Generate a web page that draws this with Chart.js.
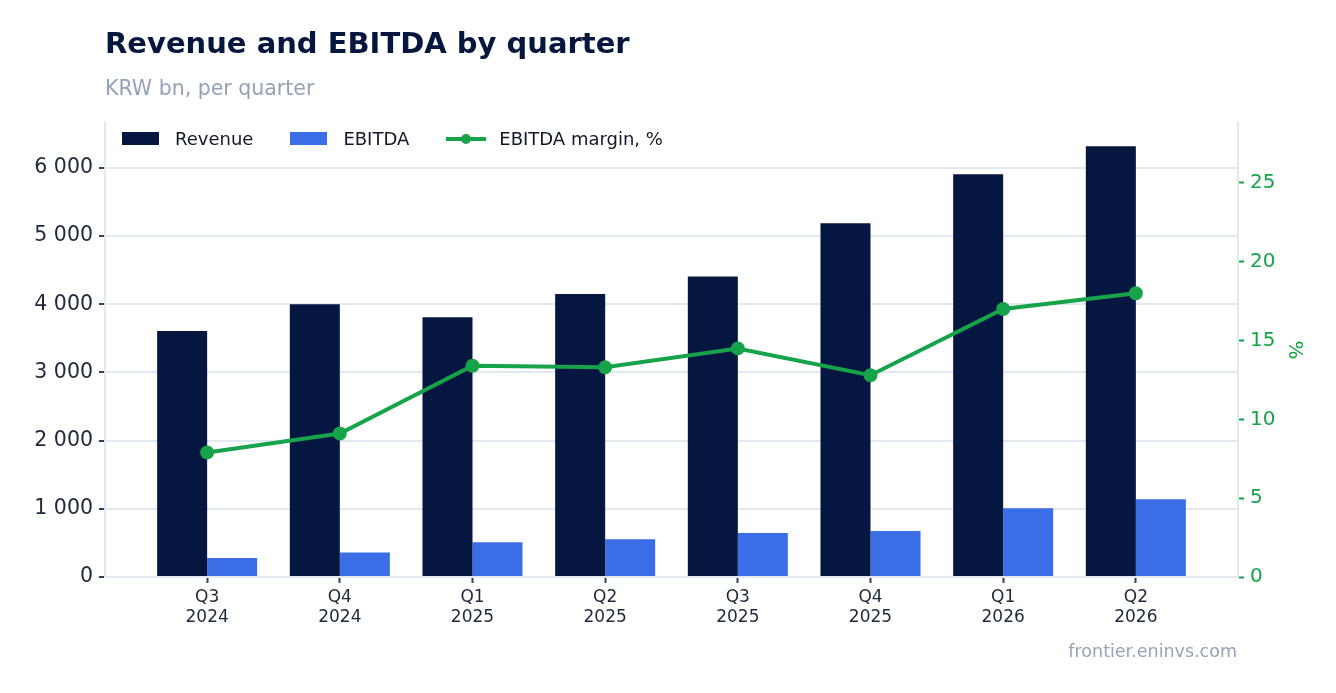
<!DOCTYPE html>
<html>
<head>
<meta charset="utf-8">
<script src="https://cdn.jsdelivr.net/npm/chart.js@4.4.1/dist/chart.umd.min.js"></script>
<style>
  html, body { margin: 0; padding: 0; background: #fff; }
  body { width: 1336px; height: 693px; position: relative; overflow: hidden; font-family: "DejaVu Sans", sans-serif; }
  #wrap { position: absolute; left: 0; top: 0; width: 1336px; height: 693px; }
  .title { position: absolute; left: 105px; top: 26px; font-size: 29px; font-weight: bold; color: #06173f; }
  .subtitle { position: absolute; left: 105px; top: 76px; font-size: 20.5px; color: #94a3b8; }
  .source { position: absolute; right: 99px; top: 641px; font-size: 17.5px; color: #94a3b8; }
  .legend { position: absolute; left: 122px; top: 128px; display: flex; align-items: center; font-size: 18px; color: #111827; }
  .legend .item { display: flex; align-items: center; margin-right: 37px; }
  .legend .box { width: 37px; height: 13px; margin-right: 16px; }
  .legend svg { margin-right: 13px; }
</style>
</head>
<body>
<div id="wrap"><canvas id="chart" width="1336" height="693"></canvas></div>
<div class="title">Revenue and EBITDA by quarter</div>
<div class="subtitle">KRW bn, per quarter</div>
<div class="legend">
  <div class="item"><span class="box" style="background:#051640"></span>Revenue</div>
  <div class="item"><span class="box" style="background:#3b6de6"></span>EBITDA</div>
  <div class="item"><svg width="40" height="12"><line x1="0" y1="6" x2="40" y2="6" stroke="#16a34a" stroke-width="4"/><circle cx="20" cy="6" r="5" fill="#16a34a"/></svg>EBITDA margin, %</div>
</div>
<div class="source">frontier.eninvs.com</div>
<script>
// данные
const quarters = [["Q3", "2024"], ["Q4", "2024"], ["Q1", "2025"], ["Q2", "2025"], ["Q3", "2025"], ["Q4", "2025"], ["Q1", "2026"], ["Q2", "2026"]];
const revenue = [3610, 4000, 3810, 4150, 4410, 5190, 5910, 6320];
const ebitda = [280, 360, 510, 555, 645, 675, 1010, 1140];
const margin = [7.9, 9.1, 13.4, 13.3, 14.5, 12.8, 17.0, 18.0];
const leftTicks = [0, 1000, 2000, 3000, 4000, 5000, 6000];
const rightTicks = [0, 5, 10, 15, 20, 25];

const fmt = (v) => String(v).replace(/\B(?=(\d{3})+(?!\d))/g, " ");
const pts = (arr) => arr.map((v, i) => ({ x: i, y: v }));

const ctx = document.getElementById("chart").getContext("2d");
new Chart(ctx, {
  data: {
    datasets: [
      {
        type: "line",
        label: "EBITDA margin, %",
        data: pts(margin),
        yAxisID: "y2",
        borderColor: "#16a34a",
        backgroundColor: "#16a34a",
        borderWidth: 4,
        pointRadius: 5,
        pointHoverRadius: 5,
        tension: 0,
        order: 0,
      },
      {
        type: "bar",
        label: "Revenue",
        data: pts(revenue),
        yAxisID: "y",
        backgroundColor: "#051640",
        categoryPercentage: 0.754,
        barPercentage: 1,
        order: 1,
      },
      {
        type: "bar",
        label: "EBITDA",
        data: pts(ebitda),
        yAxisID: "y",
        backgroundColor: "#3b6de6",
        categoryPercentage: 0.754,
        barPercentage: 1,
        order: 1,
      },
    ],
  },
  options: {
    responsive: false,
    animation: false,
    layout: { padding: { top: 123, left: 0, right: 30, bottom: 0 } },
    plugins: { legend: { display: false }, tooltip: { enabled: false } },
    scales: {
      x: {
        type: "linear",
        min: -0.77,
        max: 7.77,
        offset: false,
        afterBuildTicks: (s) => { s.ticks = quarters.map((_, i) => ({ value: i })); },
        afterFit: (s) => { s.height = 693 - 577; },
        ticks: {
          autoSkip: false,
          maxRotation: 0,
          padding: 4,
          color: "#1e293b",
          font: { family: "DejaVu Sans", size: 17 },
          callback: (v) => quarters[v],
        },
        grid: { offset: false, drawOnChartArea: false, tickLength: 6, tickColor: "#334155", tickWidth: 2 },
        border: { color: "#e2e8f0", width: 2 },
      },
      y: {
        position: "left",
        min: 0,
        max: 6660,
        afterBuildTicks: (s) => { s.ticks = leftTicks.map((v) => ({ value: v })); },
        afterFit: (s) => { s.width = 105; },
        ticks: {
          padding: 6,
          color: "#1e293b",
          font: { family: "DejaVu Sans", size: 20.5 },
          callback: (v) => fmt(v),
        },
        grid: { color: "#e2e8f0", lineWidth: 2, tickLength: 6, tickColor: "#334155" },
        border: { color: "#e2e8f0", width: 2 },
      },
      y2: {
        position: "right",
        min: 0,
        max: 28.8,
        afterBuildTicks: (s) => { s.ticks = rightTicks.map((v) => ({ value: v })); },
        afterFit: (s) => { s.width = 1305 - 1237; },
        ticks: {
          padding: 6,
          color: "#16a34a",
          font: { family: "DejaVu Sans", size: 20 },
        },
        title: {
          display: true,
          text: "%",
          color: "#16a34a",
          font: { family: "DejaVu Sans", size: 20 },
          padding: 0,
        },
        grid: { drawOnChartArea: false, tickLength: 6, tickColor: "#16a34a", tickWidth: 2 },
        border: { color: "#e2e8f0", width: 2 },
      },
    },
  },
});
</script>
</body>
</html>
